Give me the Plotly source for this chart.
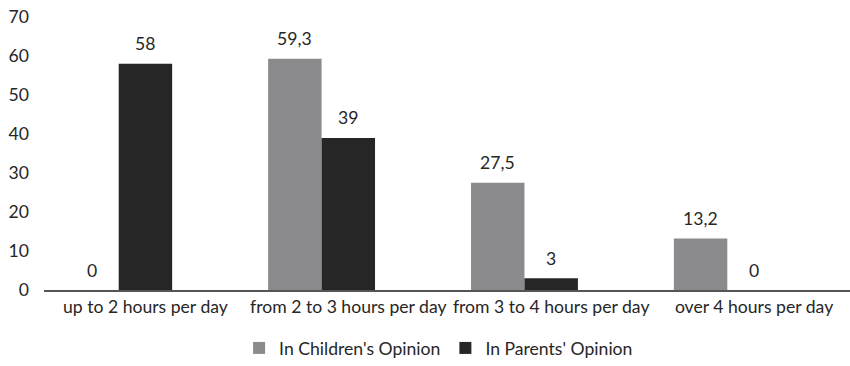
import plotly.graph_objects as go

categories = ["up to 2 hours per day", "from 2 to 3 hours per day",
              "from 3 to 4 hours per day", "over 4 hours per day"]
children = [0, 59.3, 27.5, 13.2]
parents = [58, 39, 3, 0]
series_names = ["In Children's Opinion", "In Parents' Opinion"]
colors = ["#8b8b8d", "#262626"]
y_ticks = [0, 10, 20, 30, 40, 50, 60, 70]

BAR_W = 0.2635
FONT = "Lato"
FS = 17.6

def fmt(v):
    return ("%g" % v).replace(".", ",")

xs = list(range(len(categories)))
offsets = [-1.5 * BAR_W, -0.5 * BAR_W]

fig = go.Figure()
for name, vals, col, off in zip(series_names, [children, parents], colors, offsets):
    fig.add_trace(go.Bar(x=xs, y=vals, name=name, marker_color=col,
                         marker_line_width=0, width=BAR_W, offset=off))

annotations = []
for vals, off in zip([children, parents], offsets):
    for j, v in enumerate(vals):
        annotations.append(dict(
            x=j + off + BAR_W / 2, y=v, xref="x", yref="y", text=fmt(v),
            showarrow=False, yshift=20,
            font=dict(size=FS, color="#262626", family=FONT)))

fig.update_layout(
    width=850, height=366,
    margin=dict(l=44, r=0, t=17, b=76, autoexpand=False),
    paper_bgcolor="white", plot_bgcolor="white",
    barmode="overlay",
    font=dict(family=FONT, size=FS, color="#262626"),
    annotations=annotations,
    legend=dict(orientation="h", xref="container", yref="container",
                x=0.516, xanchor="center", y=0.0, yanchor="bottom",
                font=dict(size=FS), itemwidth=30, traceorder="normal"),
    xaxis=dict(range=[-0.5, 3.473], tickvals=xs, ticktext=categories,
               tickangle=0, automargin=False,
               showline=True, linecolor="#555555", linewidth=1.5,
               ticks="", showgrid=False, zeroline=False),
    yaxis=dict(range=[0, 70], tickvals=y_ticks, showgrid=False,
               zeroline=False, showline=False, ticks="", automargin=False,
               ticklabelstandoff=14),
)
fig.write_html("out.html")
